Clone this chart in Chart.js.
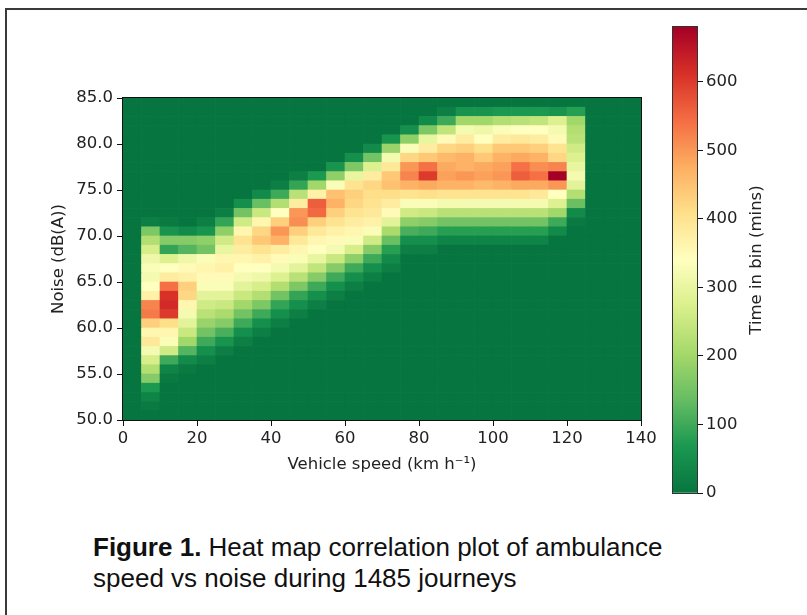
<!DOCTYPE html>
<html>
<head>
<meta charset="utf-8">
<script src="https://cdn.jsdelivr.net/npm/chart.js@4.4.0/dist/chart.umd.min.js"></script>
<style>
  html, body { margin: 0; padding: 0; background: #fff; }
  body { width: 807px; height: 615px; position: relative; overflow: hidden; }
  .frame { position: absolute; left: 5px; top: 8px; width: 900px; height: 700px; border-left: 2px solid #3a3a3a; border-top: 2px solid #3a3a3a; }
  #heat { position: absolute; left: 0; top: 0; }
  #scale { position: absolute; left: 660px; top: 0; }
  .caption { position: absolute; left: 93px; top: 532px; font: 26px/31px "Liberation Sans", Arial, sans-serif; color: #111; }
</style>
</head>
<body>
<div class="frame"></div>
<canvas id="heat" width="660" height="500"></canvas>
<canvas id="scale" width="147" height="520"></canvas>
<div class="caption"><b>Figure 1.</b> Heat map correlation plot of ambulance<br>speed vs noise during 1485 journeys</div>
<script>
// lower edge of each 5 km/h speed bin
const speedBins = [0, 5, 10, 15, 20, 25, 30, 35, 40, 45, 50, 55, 60, 65, 70, 75, 80, 85, 90, 95, 100, 105, 110, 115, 120, 125, 130, 135];
const speedStep = 5;
// lower edge of each 1 dB(A) noise bin
const noiseBins = [50, 51, 52, 53, 54, 55, 56, 57, 58, 59, 60, 61, 62, 63, 64, 65, 66, 67, 68, 69, 70, 71, 72, 73, 74, 75, 76, 77, 78, 79, 80, 81, 82, 83, 84];
const noiseStep = 1;
const speedTicks = [0, 20, 40, 60, 80, 100, 120, 140];
const noiseTicks = [50, 55, 60, 65, 70, 75, 80, 85];
const minuteTicks = [0, 100, 200, 300, 400, 500, 600];
const colorMax = 680;

// time in bin (mins), one row per noise bin (50 dB first), one value per speed bin
const minutes = [
  [0,   0,   0,   0,   0,   0,   0,   0,   0,   0,   0,   0,   0,   0,   0,   0,   0,   0,   0,   0,   0,   0,   0,   0,   0, 0, 0, 0], // 50
  [0,  10,   0,   0,   0,   0,   0,   0,   0,   0,   0,   0,   0,   0,   0,   0,   0,   0,   0,   0,   0,   0,   0,   0,   0, 0, 0, 0], // 51
  [0,  30,   0,   0,   0,   0,   0,   0,   0,   0,   0,   0,   0,   0,   0,   0,   0,   0,   0,   0,   0,   0,   0,   0,   0, 0, 0, 0], // 52
  [0,  70,   0,   0,   0,   0,   0,   0,   0,   0,   0,   0,   0,   0,   0,   0,   0,   0,   0,   0,   0,   0,   0,   0,   0, 0, 0, 0], // 53
  [0, 170,  10,   0,   0,   0,   0,   0,   0,   0,   0,   0,   0,   0,   0,   0,   0,   0,   0,   0,   0,   0,   0,   0,   0, 0, 0, 0], // 54
  [0, 220,  30,  10,   0,   0,   0,   0,   0,   0,   0,   0,   0,   0,   0,   0,   0,   0,   0,   0,   0,   0,   0,   0,   0, 0, 0, 0], // 55
  [0, 270, 100,  40,  20,   0,   0,   0,   0,   0,   0,   0,   0,   0,   0,   0,   0,   0,   0,   0,   0,   0,   0,   0,   0, 0, 0, 0], // 56
  [0, 320, 260, 120,  50,  20,   0,   0,   0,   0,   0,   0,   0,   0,   0,   0,   0,   0,   0,   0,   0,   0,   0,   0,   0, 0, 0, 0], // 57
  [0, 390, 330, 200, 100,  60,  20,   0,   0,   0,   0,   0,   0,   0,   0,   0,   0,   0,   0,   0,   0,   0,   0,   0,   0, 0, 0, 0], // 58
  [0, 360, 360, 250, 150, 110,  50,  20,   0,   0,   0,   0,   0,   0,   0,   0,   0,   0,   0,   0,   0,   0,   0,   0,   0, 0, 0, 0], // 59
  [0, 430, 410, 290, 190, 170, 100,  50,  20,   0,   0,   0,   0,   0,   0,   0,   0,   0,   0,   0,   0,   0,   0,   0,   0, 0, 0, 0], // 60
  [0, 530, 600, 320, 230, 210, 150, 100,  50,  20,   0,   0,   0,   0,   0,   0,   0,   0,   0,   0,   0,   0,   0,   0,   0, 0, 0, 0], // 61
  [0, 520, 620, 360, 260, 250, 200, 160,  90,  50,  20,   0,   0,   0,   0,   0,   0,   0,   0,   0,   0,   0,   0,   0,   0, 0, 0, 0], // 62
  [0, 370, 610, 420, 290, 290, 250, 220, 150,  90,  50,  20,   0,   0,   0,   0,   0,   0,   0,   0,   0,   0,   0,   0,   0, 0, 0, 0], // 63
  [0, 340, 540, 430, 330, 330, 290, 270, 220, 160, 100,  50,  20,   0,   0,   0,   0,   0,   0,   0,   0,   0,   0,   0,   0, 0, 0, 0], // 64
  [0, 320, 380, 370, 350, 350, 320, 310, 280, 230, 170, 100,  50,  20,   0,   0,   0,   0,   0,   0,   0,   0,   0,   0,   0, 0, 0, 0], // 65
  [0, 330, 340, 350, 360, 370, 340, 340, 320, 290, 240, 170, 100,  50,  20,   0,   0,   0,   0,   0,   0,   0,   0,   0,   0, 0, 0, 0], // 66
  [0, 310, 280, 310, 330, 360, 360, 370, 350, 330, 300, 250, 180, 100,  40,   0,   0,   0,   0,   0,   0,   0,   0,   0,   0, 0, 0, 0], // 67
  [0, 270,  90, 120, 150, 300, 380, 400, 380, 360, 340, 320, 270, 170,  80,  20,  20,   0,   0,   0,   0,   0,   0,   0,   0, 0, 0, 0], // 68
  [0, 220, 170, 170, 180, 260, 400, 440, 470, 390, 360, 350, 330, 260, 140,  50,  50,  30,  30,  30,  30,  30,  30,   0,   0, 0, 0, 0], // 69
  [0, 160,  60,  40,  60, 180, 360, 420, 500, 430, 390, 370, 360, 330, 210, 110, 100,  80,  80,  80,  80,  80,  80,  40,   0, 0, 0, 0], // 70
  [0,  20,  10,   0,  20,  90, 260, 360, 430, 510, 430, 400, 380, 370, 290, 180, 170, 150, 150, 150, 150, 150, 150, 100,  10, 0, 0, 0], // 71
  [0,   0,   0,   0,   0,  20, 150, 250, 340, 500, 550, 430, 400, 390, 350, 260, 250, 230, 230, 230, 230, 230, 230, 200,  40, 0, 0, 0], // 72
  [0,   0,   0,   0,   0,   0,  50, 140, 220, 380, 560, 470, 420, 400, 380, 330, 330, 320, 320, 320, 320, 320, 320, 280, 140, 0, 0, 0], // 73
  [0,   0,   0,   0,   0,   0,   0,  40, 100, 230, 370, 450, 430, 410, 410, 400, 410, 400, 400, 400, 400, 400, 390, 340, 220, 0, 0, 0], // 74
  [0,   0,   0,   0,   0,   0,   0,   0,  20,  90, 200, 330, 400, 420, 450, 470, 480, 470, 470, 460, 470, 480, 480, 500, 290, 0, 0, 0], // 75
  [0,   0,   0,   0,   0,   0,   0,   0,   0,  20,  70, 180, 300, 380, 440, 520, 600, 490, 500, 490, 500, 560, 540, 680, 320, 0, 0, 0], // 76
  [0,   0,   0,   0,   0,   0,   0,   0,   0,   0,   0,  60, 160, 280, 390, 500, 540, 480, 470, 480, 490, 540, 510, 520, 300, 0, 0, 0], // 77
  [0,   0,   0,   0,   0,   0,   0,   0,   0,   0,   0,   0,  50, 150, 320, 420, 440, 460, 470, 440, 470, 480, 470, 420, 280, 0, 0, 0], // 78
  [0,   0,   0,   0,   0,   0,   0,   0,   0,   0,   0,   0,   0,  40, 190, 330, 380, 420, 430, 410, 440, 440, 430, 400, 260, 0, 0, 0], // 79
  [0,   0,   0,   0,   0,   0,   0,   0,   0,   0,   0,   0,   0,   0,  60, 180, 300, 350, 380, 340, 380, 390, 380, 350, 230, 0, 0, 0], // 80
  [0,   0,   0,   0,   0,   0,   0,   0,   0,   0,   0,   0,   0,   0,   0,  50, 160, 240, 320, 310, 330, 340, 340, 320, 220, 0, 0, 0], // 81
  [0,   0,   0,   0,   0,   0,   0,   0,   0,   0,   0,   0,   0,   0,   0,   0,  40, 100, 200, 200, 220, 230, 240, 280, 200, 0, 0, 0], // 82
  [0,   0,   0,   0,   0,   0,   0,   0,   0,   0,   0,   0,   0,   0,   0,   0,   0,  20,  60,  60,  70,  70,  70,  60,  80, 0, 0, 0], // 83
  [0,   0,   0,   0,   0,   0,   0,   0,   0,   0,   0,   0,   0,   0,   0,   0,   0,   0,   0,   0,   0,   0,   0,   0,   0, 0, 0, 0], // 84
];

// RdYlGn reversed: green at 0, dark red at the top of the scale
const palette = ['#07753f', '#1a9850', '#66bd63', '#a6d96a', '#d9ef8b', '#ffffbf', '#fee08b', '#fdae61', '#f46d43', '#d73027', '#a50026'];

function hexToRgb(h) {
  return [1, 3, 5].map((i) => parseInt(h.slice(i, i + 2), 16));
}

function colorFor(v) {
  const t = Math.min(Math.max(v / colorMax, 0), 1) * (palette.length - 1);
  const i = Math.min(Math.floor(t), palette.length - 2);
  const f = t - i;
  const a = hexToRgb(palette[i]);
  const b = hexToRgb(palette[i + 1]);
  const c = a.map((x, k) => Math.round(x + (b[k] - x) * f));
  return `rgb(${c[0]}, ${c[1]}, ${c[2]})`;
}

Chart.defaults.font.family = '"DejaVu Sans", sans-serif';
Chart.defaults.font.size = 16.5;
Chart.defaults.color = '#222';

const tickFont = { family: '"DejaVu Sans", sans-serif', size: 16.5 };

const frame = {
  id: 'frame',
  afterDatasetsDraw(chart) {
    const { ctx, chartArea: a } = chart;
    ctx.save();
    ctx.strokeStyle = '#111';
    ctx.lineWidth = 1;
    ctx.strokeRect(a.left - 0.5, a.top - 0.5, a.right - a.left + 1, a.bottom - a.top + 1);
    ctx.restore();
  },
};

new Chart(document.getElementById('heat'), {
  type: 'bar',
  data: {
    datasets: noiseBins.map((n, r) => ({
      label: `${n} dB(A)`,
      data: speedBins.map((s) => ({ x: s + speedStep / 2, y: [n, n + noiseStep] })),
      backgroundColor: minutes[r].map(colorFor),
      borderWidth: 0,
      grouped: false,
      barPercentage: 1,
      categoryPercentage: 1,
    })),
  },
  options: {
    responsive: false,
    animation: false,
    layout: { padding: { top: 98, right: 19, left: 0, bottom: 0 } },
    plugins: { legend: { display: false }, tooltip: { enabled: false } },
    scales: {
      x: {
        type: 'linear',
        min: speedTicks[0],
        max: speedTicks[speedTicks.length - 1],
        offset: false,
        afterBuildTicks: (s) => { s.ticks = speedTicks.map((v) => ({ value: v })); },
        afterFit: (s) => { s.height = 80; },
        grid: { offset: false, drawOnChartArea: false, tickLength: 6, color: '#111' },
        border: { display: false },
        ticks: { padding: 3, maxRotation: 0, font: tickFont, color: '#222' },
        title: {
          display: true,
          text: 'Vehicle speed (km h⁻¹)',
          font: tickFont,
          color: '#222',
          padding: { top: 0, bottom: 25 },
        },
      },
      y: {
        type: 'linear',
        min: noiseTicks[0],
        max: noiseTicks[noiseTicks.length - 1],
        afterBuildTicks: (s) => { s.ticks = noiseTicks.map((v) => ({ value: v })); },
        afterFit: (s) => { s.width = 123; },
        grid: { drawOnChartArea: false, tickLength: 6, color: '#111' },
        border: { display: false },
        ticks: { padding: 4, font: tickFont, color: '#222', callback: (v) => Number(v).toFixed(1) },
        title: {
          display: true,
          text: 'Noise (dB(A))',
          font: tickFont,
          color: '#222',
          padding: { top: 49, bottom: 0 },
        },
      },
    },
  },
  plugins: [frame],
});

// colour bar
const scaleLabel = {
  id: 'scaleLabel',
  afterDraw(chart) {
    const { ctx, chartArea: a } = chart;
    ctx.save();
    ctx.strokeStyle = '#333';
    ctx.lineWidth = 1;
    ctx.strokeRect(a.left - 0.5, a.top - 0.5, a.right - a.left + 1, a.bottom - a.top + 1);
    ctx.translate(97, (a.top + a.bottom) / 2);
    ctx.rotate(-Math.PI / 2);
    ctx.font = '16.5px "DejaVu Sans", sans-serif';
    ctx.fillStyle = '#222';
    ctx.textAlign = 'center';
    ctx.textBaseline = 'middle';
    ctx.fillText('Time in bin (mins)', 0, 0);
    ctx.restore();
  },
};

new Chart(document.getElementById('scale'), {
  type: 'bar',
  data: {
    labels: ['Time in bin'],
    datasets: [{
      data: [[0, colorMax]],
      borderWidth: 0,
      barPercentage: 1,
      categoryPercentage: 1,
      backgroundColor: (c) => {
        const a = c.chart.chartArea;
        if (!a) return palette[0];
        const g = c.chart.ctx.createLinearGradient(0, a.bottom, 0, a.top);
        palette.forEach((col, i) => g.addColorStop(i / (palette.length - 1), col));
        return g;
      },
    }],
  },
  options: {
    responsive: false,
    animation: false,
    layout: { padding: { top: 27, left: 13, right: 0, bottom: 27 } },
    plugins: { legend: { display: false }, tooltip: { enabled: false } },
    scales: {
      x: { display: false },
      y: {
        position: 'right',
        min: 0,
        max: colorMax,
        afterBuildTicks: (s) => { s.ticks = minuteTicks.map((v) => ({ value: v })); },
        afterFit: (s) => { s.width = 110; },
        grid: { drawOnChartArea: false, tickLength: 6, color: '#111' },
        border: { display: false },
        ticks: { padding: 3, font: tickFont, color: '#222' },
      },
    },
  },
  plugins: [scaleLabel],
});
</script>
</body>
</html>
